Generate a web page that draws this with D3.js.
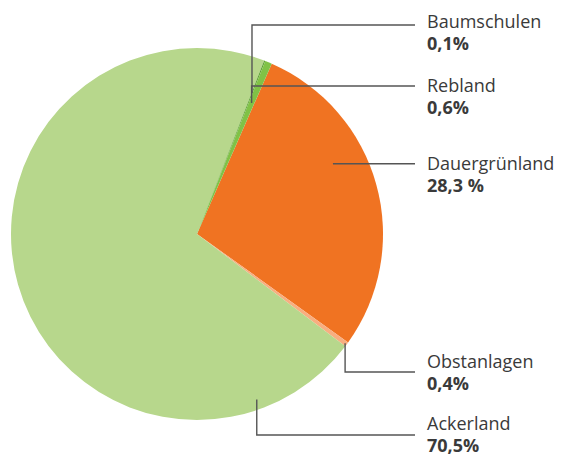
<!DOCTYPE html>
<html>
<head>
<meta charset="utf-8">
<script src="https://cdn.jsdelivr.net/npm/d3@7"></script>
<style>
  body { margin: 0; background: #fff; }
  svg { display: block; }
</style>
</head>
<body>
<svg></svg>
<script>
// Flächenanteile, Uhrzeigersinn ab Dauergrünland
var categories = ["Dauergrünland", "Obstanlagen", "Ackerland", "Baumschulen", "Rebland"];
var values = [28.3, 0.4, 70.5, 0.1, 0.6];
var valueLabels = ["28,3 %", "0,4%", "70,5%", "0,1%", "0,6%"];
var colors = ["#f07322", "#f8ae80", "#b7d78c", "#5c9f32", "#80c246"];

var svgWidth = 561, svgHeight = 457;
var cx = 197, cy = 234, radius = 186;
var labelLineEnd = 415, labelX = 427;

// leader anchor: angle offset from slice middle (deg), radius; line y; name baseline
var leader = {
    "Dauergrünland": { off: -12, r: 153, ly: null, ty: 170 },
    "Obstanlagen":   { off: 0,   r: 184, ly: 372, ty: 368 },
    "Ackerland":     { off: -94, r: 176, ly: 435, ty: 430 },
    "Baumschulen":   { off: 0,   r: 151, ly: 25,  ty: 28 },
    "Rebland":       { off: 0,   r: 142, ly: 86,  ty: 92 }
};

var svg = d3.select("svg")
    .attr("width", svgWidth)
    .attr("height", svgHeight);

var rad = Math.PI / 180;
var pie = d3.pie()
    .sort(null)
    .value(function (d) { return d; })
    .startAngle(23.7 * rad)
    .endAngle(23.7 * rad + 2 * Math.PI);

var arcs = pie(values);

var arc = d3.arc()
    .innerRadius(0)
    .outerRadius(radius);

var g = svg.append("g")
    .attr("transform", "translate(" + cx + "," + cy + ")");

g.selectAll("path.slice")
    .data(arcs)
    .enter()
    .append("path")
    .attr("class", "slice")
    .attr("d", arc)
    .style("fill", function (d, i) { return colors[i]; });

// leader lines
arcs.forEach(function (d, i) {
    var L = leader[categories[i]];
    var a = (d.startAngle + d.endAngle) / 2 + L.off * rad;
    var x = L.r * Math.sin(a), y = -L.r * Math.cos(a);
    var ly = L.ly === null ? y : L.ly - cy;
    var p = d3.path();
    p.moveTo(x, y);
    p.lineTo(x, ly);
    p.lineTo(labelLineEnd - cx, ly);
    g.append("path")
        .attr("d", p.toString())
        .style("fill", "none")
        .style("stroke", "#555")
        .style("stroke-width", 1.4);

    svg.append("text")
        .attr("x", labelX)
        .attr("y", L.ty)
        .style("font-family", "Open Sans")
        .style("font-size", "18px")
        .style("fill", "#3a3a3a")
        .text(categories[i]);

    svg.append("text")
        .attr("x", labelX)
        .attr("y", L.ty + 22)
        .style("font-family", "Open Sans")
        .style("font-size", "18px")
        .style("font-weight", "bold")
        .style("fill", "#3a3a3a")
        .text(valueLabels[i]);
});
</script>
</body>
</html>
